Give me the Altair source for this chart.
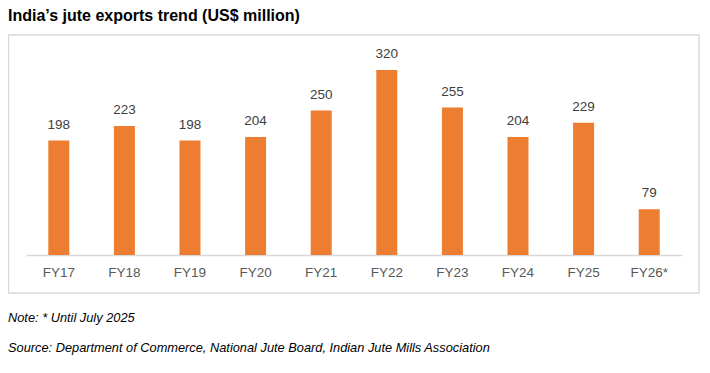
import altair as alt
import pandas as pd

categories = ["FY17", "FY18", "FY19", "FY20", "FY21", "FY22", "FY23", "FY24", "FY25", "FY26*"]
values = [198, 223, 198, 204, 250, 320, 255, 204, 229, 79]
title_text = "India\u2019s jute exports trend (US$ million)"
note_text = "Note: * Until July 2025"
source_text = "Source: Department of Commerce, National Jute Board, Indian Jute Mills Association"

df = pd.DataFrame({"cat": categories, "val": values})
one = pd.DataFrame({"k": [0]})
FONT = "Liberation Sans"

x_enc = alt.X("cat:N", sort=categories,
              scale=alt.Scale(paddingInner=0.68, paddingOuter=0.34),
              axis=alt.Axis(title=None, labelAngle=0, ticks=False, domainColor="#d9d9d9",
                            domainWidth=1.5, labelFontSize=13.5, labelColor="#595959",
                            labelFont=FONT, labelPadding=10))
y_enc = alt.Y("val:Q", scale=alt.Scale(domain=[0, 372], nice=False), axis=None)

box = alt.Chart(one).mark_rect(fill=None, stroke="#d9d9d9", strokeWidth=1.5).encode(
    x=alt.value(-17.5), x2=alt.value(673), y=alt.value(-5), y2=alt.value(253))

bars = alt.Chart(df).mark_bar(color="#ED7D31").encode(x=x_enc, y=y_enc)

labels = alt.Chart(df).mark_text(baseline="middle", dy=-16, fontSize=13.5,
                                 color="#404040", font=FONT).encode(
    x=alt.X("cat:N", sort=categories), y=y_enc, text="val:Q")

title = alt.Chart(one).mark_text(align="left", baseline="middle", fontSize=16,
                                 fontWeight="bold", color="#000000", font=FONT).encode(
    x=alt.value(-18), y=alt.value(-24), text=alt.value(title_text))

note = alt.Chart(one).mark_text(align="left", baseline="middle", fontSize=12.8,
                                fontStyle="italic", color="#000000", font=FONT).encode(
    x=alt.value(-18), y=alt.value(278), text=alt.value(note_text))

source = alt.Chart(one).mark_text(align="left", baseline="middle", fontSize=12.8,
                                  fontStyle="italic", color="#000000", font=FONT).encode(
    x=alt.value(-18), y=alt.value(308), text=alt.value(source_text))

chart = alt.layer(box, bars, labels, title, note, source).properties(
    width=656, height=215,
    autosize=alt.AutoSizeParams(type="none"),
    padding={"left": 18, "top": 32, "right": 18, "bottom": 100},
).configure_view(stroke=None)

chart.save("out.html", embed_options={"renderer": "svg", "actions": False})
